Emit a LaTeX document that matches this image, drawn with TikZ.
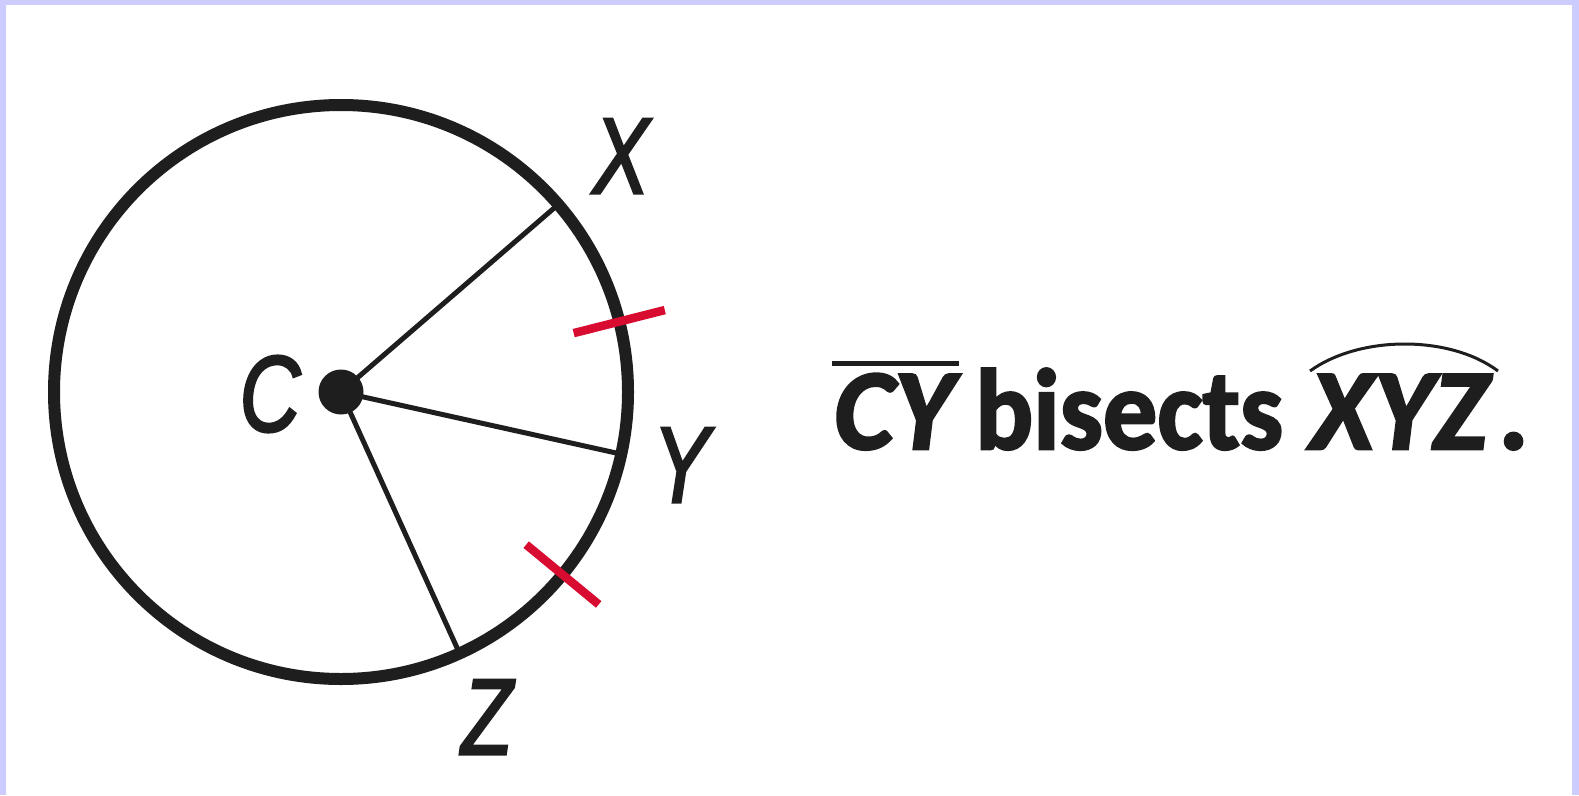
\documentclass[tikz,border=0pt]{standalone}
\usepackage{fontspec}
\usetikzlibrary{calc}
\setmainfont{Liberation Sans}
\newfontfamily\carl{Carlito}[BoldFeatures={FakeBold=2.2},BoldItalicFeatures={FakeBold=2.2}]
\newfontfamily\labfont{Liberation Sans}[ItalicFeatures={FakeBold=2.5}]
\definecolor{lav}{RGB}{204,204,255}
\definecolor{ink}{RGB}{30,30,30}
\definecolor{tickred}{RGB}{215,12,48}
\begin{document}
\begin{tikzpicture}[x=1pt,y=-1pt,
  rim/.style={draw=ink,line width=12pt},
  spoke/.style={draw=ink,line width=5pt},
  tickmark/.style={draw=tickred,line width=8.5pt},
  ptlabel/.style={inner sep=0pt,text=ink,font=\labfont\fontsize{108}{110}\selectfont\itshape,xscale=0.78},
  big/.style={inner sep=0pt,text=ink,font=\carl\bfseries\fontsize{115}{120}\selectfont}]
\fill[lav] (0,0) rectangle (1579,795);
\fill[white] (6,5) rectangle (1572,795);
\coordinate (C) at (341,392);
\path[rim] (C) circle (287);
\coordinate (X) at ($(C)+(-40.8:287)$);
\coordinate (Y) at ($(C)+(12.5:287)$);
\coordinate (Z) at ($(C)+(65.6:287)$);
\draw[spoke] (C) -- (X);
\draw[spoke] (C) -- (Y);
\draw[spoke] (C) -- (Z);
\fill[ink] (C) circle (22.5);
\coordinate (t1a) at ($(C)+(-14.2:240)$);
\coordinate (t1b) at ($(C)+(-14.2:334)$);
\coordinate (t2a) at ($(C)+(39.5:240)$);
\coordinate (t2b) at ($(C)+(39.5:334)$);
\draw[tickmark] (t1a) -- (t1b);
\draw[tickmark] (t2a) -- (t2b);
\node[ptlabel] (lC) at (270,394) {C};
\node[ptlabel] (lX) at (621,156) {X};
\node[ptlabel] (lY) at (681,465) {Y};
\node[ptlabel] (lZ) at (487,717) {Z};
\node[big,anchor=base west] (cy) at (834,449) {\itshape CY};
\node[big,anchor=base west,xscale=0.94] (bis) at (975,449) {bisects};
\node[big,anchor=base west] (xyz) at (1310,449) {\itshape XYZ};
\node[big,anchor=base west] (per) at (1498,449) {.};
\draw[ink,line width=5pt] (832,363) -- (959,363);
\draw[ink,line width=3pt] (1310,371) .. controls (1360,335) and (1450,335) .. (1498,371);
\end{tikzpicture}
\end{document}
